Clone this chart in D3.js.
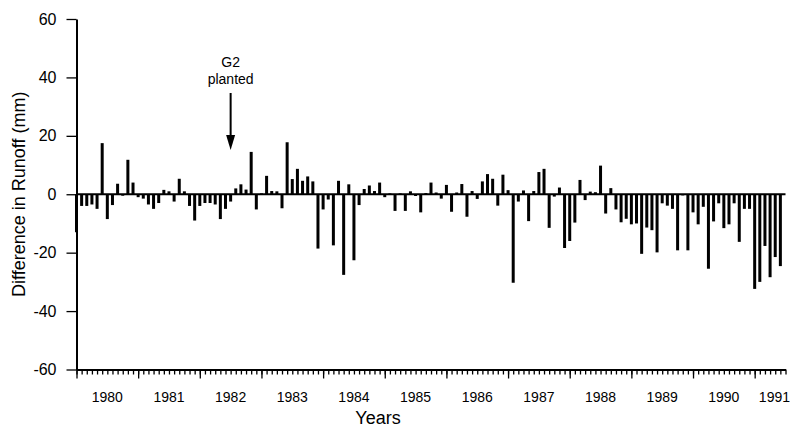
<!DOCTYPE html>
<html>
<head>
<meta charset="utf-8">
<script src="https://cdn.jsdelivr.net/npm/d3@7/dist/d3.min.js"></script>
<style>
  body { margin: 0; background: #fff; }
  svg { display: block; font-family: "Liberation Sans", Arial, Helvetica, sans-serif; }
</style>
</head>
<body>
<svg id="chart" width="793" height="427"></svg>
<script>
// monthly difference in runoff (mm), Jan 1980 .. Jun 1991
var diff1980 = [-13, -4, -4, -3.5, -5, 17.5, -8.5, -3.7, 3.6, -0.5, 11.8, 4];
var diff1981 = [-1, -1.5, -3.5, -5, -3, 1.5, 1, -2.5, 5.3, 1, -4, -9];
var diff1982 = [-4, -3, -3, -3.5, -8.5, -5, -2.5, 2, 3.4, 1.6, 14.5, -5.2];
var diff1983 = [0.3, 6.3, 1.1, 1, -4.8, 17.8, 5.2, 8.7, 4.6, 6.1, 4.4, -18.6];
var diff1984 = [-5.2, -1.8, -17.5, 4.6, -27.6, 3.4, -22.6, -3.7, 1.8, 3, 1.1, 4];
var diff1985 = [-1, 0.3, -5.7, 0.3, -5.7, 1, -0.6, -6.2, 0.4, 4, 0.6, -1.5];
var diff1986 = [3.2, -6, 0.6, 3.5, -7.7, 1.1, -1.6, 4.4, 6.9, 5.3, -3.9, 6.7];
var diff1987 = [1.4, -30.3, -2.5, 1.3, -9.2, 1.1, 7.6, 8.7, -11.5, -0.8, 2.3, -18.4];
var diff1988 = [-16, -9.7, 4.9, -2, 0.9, 0.7, 9.8, -6.6, 2.1, -5.2, -9.6, -8.4];
var diff1989 = [-10.3, -10, -20.4, -11.4, -12.3, -19.9, -3.1, -3.9, -5, -19.2, -0.4, -19.2];
var diff1990 = [-6.2, -10.3, -4.3, -25.5, -9.3, -3.1, -11.6, -10.3, -3.1, -16.3, -5, -5];
var diff1991 = [-32.4, -30, -17.7, -28.4, -21.5, -24.6];

var yearLabels = ['1980', '1981', '1982', '1983', '1984', '1985',
                  '1986', '1987', '1988', '1989', '1990', '1991'];
var yTicks = [-60, -40, -20, 0, 20, 40, 60];
var plantedMonth = 30;   // G2 planted

var monthlyDiff = [].concat(diff1980, diff1981, diff1982, diff1983, diff1984, diff1985,
                            diff1986, diff1987, diff1988, diff1989, diff1990, diff1991);
var nMonths = monthlyDiff.length;

var svg = d3.select('#chart');

var x = d3.scaleLinear().domain([0, nMonths]).range([76.5, 785.5]);
var y = d3.scaleLinear().domain([-60, 60]).range([369.5, 19]);

// bars
svg.append('g')
    .selectAll('rect')
    .data(monthlyDiff)
    .enter().append('rect')
    .attr('x', function (d, i) { return x(i) - 1.5; })
    .attr('y', function (d) { return y(Math.max(0, d)); })
    .attr('width', 3)
    .attr('height', function (d) { return Math.abs(y(d) - y(0)); })
    .attr('fill', '#000');

// zero line
svg.append('line')
    .attr('x1', x(0)).attr('x2', x(nMonths))
    .attr('y1', y(0)).attr('y2', y(0))
    .attr('stroke', '#000').attr('stroke-width', 2);

// y axis (plain hyphen for negatives, as in the original)
var yAxis = svg.append('g')
    .attr('transform', 'translate(' + x(0) + ',0)')
    .call(d3.axisLeft(y).tickValues(yTicks).tickSize(10).tickSizeOuter(0).tickPadding(10)
        .tickFormat(function (d) { return String(d); }));
yAxis.selectAll('text').attr('font-size', 16).attr('fill', '#000')
    .attr('font-family', '"Liberation Sans", Arial, sans-serif');

// x axis: monthly minor ticks + yearly major ticks
var months = d3.range(0, nMonths + 1);
var yearStarts = months.filter(function (m) { return m % 12 === 0; });

svg.append('g')
    .attr('transform', 'translate(0,' + y(-60) + ')')
    .call(d3.axisBottom(x).tickValues(months).tickSize(5).tickSizeOuter(0).tickFormat(''));
svg.append('g')
    .attr('transform', 'translate(0,' + y(-60) + ')')
    .call(d3.axisBottom(x).tickValues(yearStarts).tickSize(9).tickSizeOuter(0).tickFormat(''))
    .select('.domain').remove();

svg.selectAll('.domain').attr('stroke-width', 2);
svg.selectAll('.tick line').attr('stroke-width', 1.3);

// year labels, centred in each year (last one pushed to the axis end)
svg.append('g')
    .selectAll('text')
    .data(yearLabels)
    .enter().append('text')
    .attr('x', function (d, i) {
        return i === yearLabels.length - 1 ? 790 : x(i * 12 + 6);
    })
    .attr('y', 402)
    .attr('text-anchor', function (d, i) { return i === yearLabels.length - 1 ? 'end' : 'middle'; })
    .attr('font-size', 14)
    .text(function (d) { return d; });

// axis titles
svg.append('text')
    .attr('x', 378).attr('y', 424)
    .attr('text-anchor', 'middle')
    .attr('font-size', 18)
    .text('Years');

svg.append('text')
    .attr('transform', 'translate(25,' + y(0) + ') rotate(-90)')
    .attr('text-anchor', 'middle')
    .attr('font-size', 18)
    .text('Difference in Runoff (mm)');

// annotation
var ax = x(plantedMonth);
svg.append('text')
    .attr('x', ax).attr('y', 67)
    .attr('text-anchor', 'middle').attr('font-size', 14)
    .text('G2');
svg.append('text')
    .attr('x', ax).attr('y', 84)
    .attr('text-anchor', 'middle').attr('font-size', 14)
    .text('planted');
svg.append('line')
    .attr('x1', ax).attr('x2', ax)
    .attr('y1', 93).attr('y2', 138)
    .attr('stroke', '#000').attr('stroke-width', 2);
svg.append('path')
    .attr('d', 'M' + (ax - 4.5) + ',135 L' + (ax + 4.5) + ',135 L' + ax + ',150 Z')
    .attr('fill', '#000');
</script>
</body>
</html>
